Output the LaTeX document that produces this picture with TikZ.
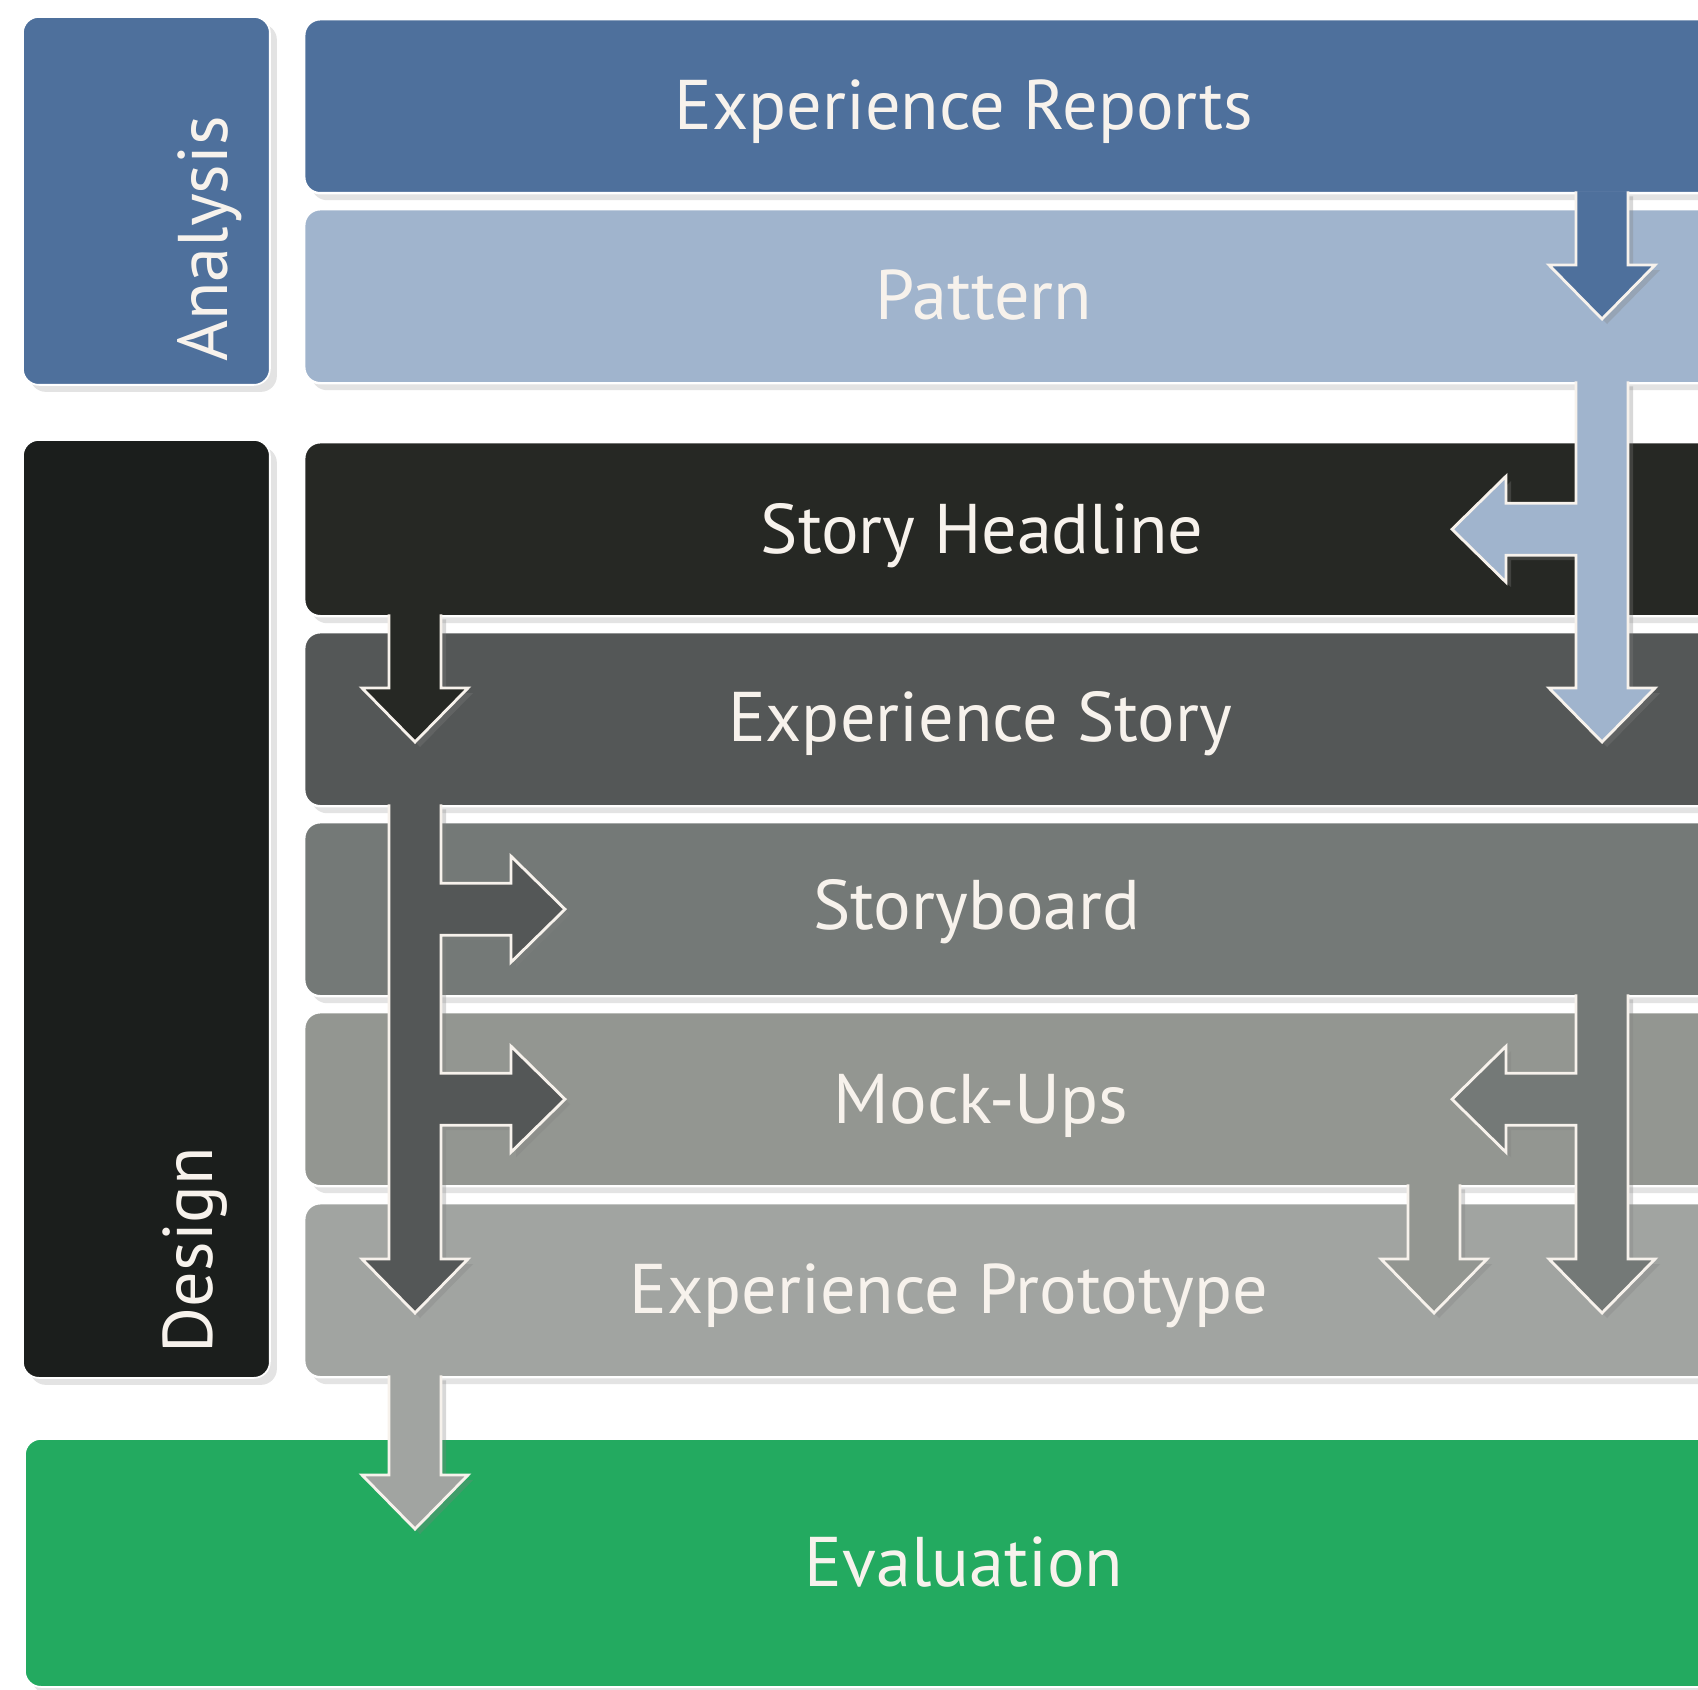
\documentclass[tikz,border=0pt]{standalone}
\usepackage{fontspec}
\setmainfont{PT Sans}
\usetikzlibrary{calc, shadows}

\definecolor{erblue}{HTML}{4E709C}
\definecolor{patblue}{HTML}{A0B4CD}
\definecolor{desblack}{HTML}{1B1E1C}
\definecolor{shblack}{HTML}{262824}
\definecolor{esgray}{HTML}{545757}
\definecolor{sbgray}{HTML}{747977}
\definecolor{mugray}{HTML}{939691}
\definecolor{epgray}{HTML}{A1A4A1}
\definecolor{evalgreen}{HTML}{23AA60}
\definecolor{labelwhite}{HTML}{F7F2EC}

\begin{document}
\begin{tikzpicture}
	[%
	x=0.1mm, y=-0.1mm,
	stage/.style    ={rectangle, rounded corners=1.6mm, draw=white, line width=0.7pt, fill=#1, anchor=north west, inner sep=0pt, minimum width=144mm, minimum height=17.4mm, drop shadow={opacity=0.22, shadow xshift=0.7mm, shadow yshift=-0.7mm}},%
	phase/.style    ={rectangle, rounded corners=1.6mm, draw=white, line width=0.5pt, fill=#1, anchor=north west, inner sep=0pt, minimum width=24.7mm, drop shadow={opacity=0.22, shadow xshift=0.7mm, shadow yshift=-0.7mm}},%
	stagetext/.style={text=labelwhite, font=\fontsize{20}{24}\selectfont, inner sep=0pt, text height=14pt, text depth=0pt},%
	flow/.style     ={draw=labelwhite, line width=0.8pt, line join=miter, drop shadow={opacity=0.3, shadow xshift=0.5mm, shadow yshift=-0.5mm}},%
	]

	% side branches of an arrow (column, target stage)
	\newcommand{\branchright}[2]{%
		-- ($(#1 |- #2.center)+(26,-26)$) -- ++(70,0) -- ++(0,-27) -- ($(#1 |- #2.center)+(150,0)$)
		-- ($(#1 |- #2.center)+(96,53)$) -- ++(0,-27) -- ($(#1 |- #2.center)+(26,26)$)}
	\newcommand{\branchleft}[2]{%
		-- ($(#1 |- #2.center)+(-26,26)$) -- ++(-70,0) -- ++(0,27) -- ($(#1 |- #2.center)+(-150,0)$)
		-- ($(#1 |- #2.center)+(-96,-53)$) -- ++(0,27) -- ($(#1 |- #2.center)+(-26,-26)$)}
	% arrow: colour, column, source, target, tip depth, right branches, left branches
	\newcommand{\flowarrow}[7]{%
		\filldraw [flow, fill=#1] ($(#2 |- #3.south)+(26,-3)$) #6
			-- ($(#2 |- #4.north)+(26,#5-54)$) -- ++(27,0) -- ($(#2 |- #4.north)+(0,#5)$)
			-- ($(#2 |- #4.north)+(-53,#5-54)$) -- ++(27,0) #7
			-- ($(#2 |- #3.south)+(-26,-3)$);}

	\useasboundingbox (0,0) rectangle (1698,1690);
	\fill [white] (0,0) rectangle (1698,1690);
	\clip (0,0) rectangle (1698,1690);

	% columns of the arrows
	\coordinate (colL) at (415,0);
	\coordinate (colM) at (1434,0);
	\coordinate (colR) at (1602,0);

	% phases
	\node (analysis) at (22,16)  [phase=erblue, minimum height=36.8mm] {};
	\node (design)   at (22,439) [phase=desblack, minimum height=93.8mm] {};
	\node (eval)     at (24,1438) [phase=evalgreen, minimum width=172mm, minimum height=24.8mm] {};

	% stages
	\node (er)      at (303,18)  [stage=erblue] {};
	\node (pattern) at (303,208) [stage=patblue] {};
	\foreach \name/\col/\y in {sh/shblack/441, es/esgray/631, sb/sbgray/821, mu/mugray/1011, ep/epgray/1202}
		\node (\name) at (303,\y) [stage=\col] {};

	% labels
	\node (analysislabel) at (203,239)  [stagetext, rotate=90] {Analysis};
	\node (designlabel)   at (188,1250) [stagetext, rotate=90] {Design};
	\node (erlabel)       at (964,105)  [stagetext] {Experience Reports};
	\node (patternlabel)  at (984,295)  [stagetext] {Pattern};
	\node (shlabel)       at (982,529)  [stagetext] {Story Headline};
	\node (eslabel)       at (980,717)  [stagetext] {Experience Story};
	\node (sblabel)       at (977,905)  [stagetext] {Storyboard};
	\node (mulabel)       at (981,1099) [stagetext] {Mock-Ups};
	\node (eplabel)       at (949,1289) [stagetext] {Experience Prototype};
	\node (evallabel)     at (964,1562) [stagetext] {Evaluation};

	% arrows
	\flowarrow{erblue}{colR}{er}{pattern}{111}{}{}
	\flowarrow{patblue}{colR}{pattern}{es}{111}{}{\branchleft{colR}{sh}}
	\flowarrow{shblack}{colL}{sh}{es}{111}{}{}
	\flowarrow{esgray}{colL}{es}{ep}{111}{\branchright{colL}{sb}\branchright{colL}{mu}}{}
	\flowarrow{sbgray}{colR}{sb}{ep}{111}{}{\branchleft{colR}{mu}}
	\flowarrow{mugray}{colM}{mu}{ep}{111}{}{}
	\flowarrow{epgray}{colL}{ep}{eval}{91}{}{}

\end{tikzpicture}
\end{document}
